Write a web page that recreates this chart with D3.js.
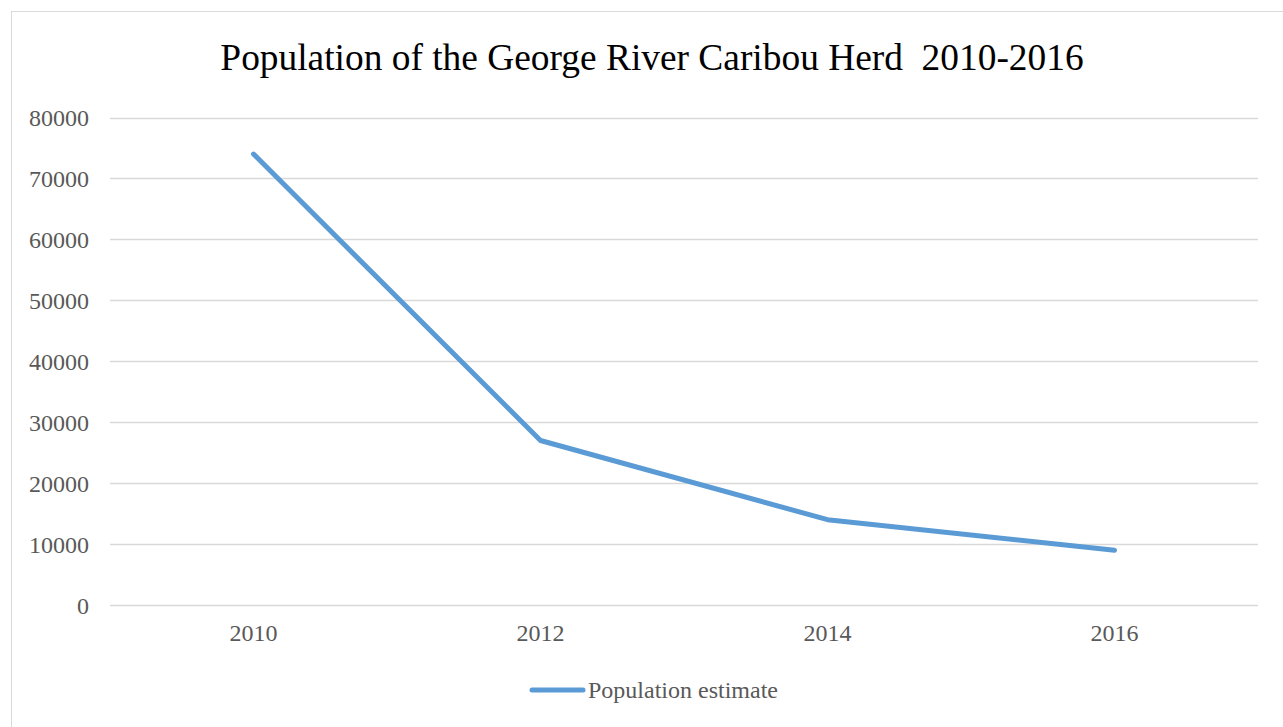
<!DOCTYPE html>
<html>
<head>
<meta charset="utf-8">
<script src="https://cdn.jsdelivr.net/npm/d3@7"></script>
<style>
  html, body { margin: 0; padding: 0; background: #fff; }
  svg { display: block; }
  text { font-family: "Liberation Serif", "Times New Roman", serif; }
</style>
</head>
<body>
<svg id="chart" width="1283" height="727"></svg>
<script>
// Population estimates of the George River caribou herd
const years = ["2010", "2012", "2014", "2016"];
const population = [74000, 27000, 14000, 9000];
const yTicks = [0, 10000, 20000, 30000, 40000, 50000, 60000, 70000, 80000];
const chartTitle = "Population of the George River Caribou Herd\u00a0 2010-2016";
const seriesName = "Population estimate";

const plot = { left: 110, right: 1258, top: 117.5, bottom: 605 };
const lineColor = "#5b9bd5";
const labelColor = "#595959";

const svg = d3.select("#chart");

// chart area frame
svg.append("rect")
  .attr("x", 11.5).attr("y", 11.5)
  .attr("width", 1280).attr("height", 730)
  .attr("fill", "#fff").attr("stroke", "#d9d9d9").attr("stroke-width", 1);

const x = d3.scaleBand().domain(years).range([plot.left, plot.right]);
const y = d3.scaleLinear().domain([0, 80000]).range([plot.bottom, plot.top]);

// gridlines
svg.append("g")
  .selectAll("line")
  .data(yTicks)
  .join("line")
  .attr("x1", plot.left).attr("x2", plot.right)
  .attr("y1", d => Math.round(y(d)) + 0.5).attr("y2", d => Math.round(y(d)) + 0.5)
  .attr("stroke", "#d9d9d9").attr("stroke-width", 1.3);

// y axis labels
const yAxis = d3.axisLeft(y).tickValues(yTicks).tickSize(0).tickPadding(0).tickFormat(d3.format("d"));
const gy = svg.append("g").attr("transform", "translate(89,0)").call(yAxis);
gy.select(".domain").remove();
gy.selectAll("text")
  .attr("fill", labelColor)
  .style("font-size", "24px")
  .style("font-family", "'Liberation Serif', serif")
  .attr("dy", "0.35em");

// x axis labels
const xAxis = d3.axisBottom(x).tickSize(0).tickPadding(0);
const gx = svg.append("g").attr("transform", `translate(0,${plot.bottom + 19})`).call(xAxis);
gx.select(".domain").remove();
gx.selectAll("text")
  .attr("fill", labelColor)
  .style("font-size", "24px")
  .style("font-family", "'Liberation Serif', serif");

// data line
const line = d3.line()
  .x((d, i) => x(years[i]) + x.bandwidth() / 2)
  .y(d => y(d));

svg.append("path")
  .datum(population)
  .attr("d", line)
  .attr("fill", "none")
  .attr("stroke", lineColor)
  .attr("stroke-width", 5)
  .attr("stroke-linecap", "round")
  .attr("stroke-linejoin", "round");

// title
svg.append("text")
  .attr("x", 652).attr("y", 70)
  .attr("text-anchor", "middle")
  .attr("fill", "#000")
  .style("font-size", "37.4px")
  .text(chartTitle);

// legend
const legend = svg.append("g").attr("transform", "translate(0,690)");
legend.append("line")
  .attr("x1", 532).attr("x2", 583)
  .attr("y1", 0).attr("y2", 0)
  .attr("stroke", lineColor).attr("stroke-width", 5)
  .attr("stroke-linecap", "round");
legend.append("text")
  .attr("x", 588).attr("y", 0)
  .attr("dy", "0.33em")
  .attr("fill", labelColor)
  .style("font-size", "24px")
  .text(seriesName);
</script>
</body>
</html>
